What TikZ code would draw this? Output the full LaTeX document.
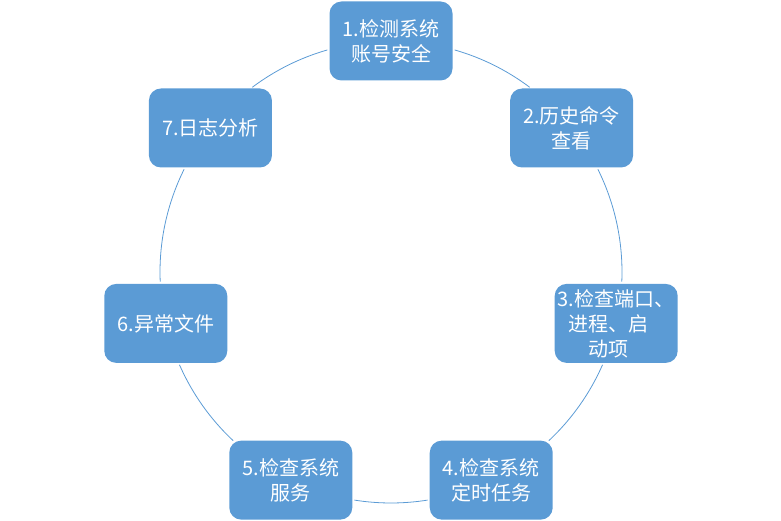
\documentclass[tikz,border=0pt]{standalone}
\usepackage{fontspec}
\setmainfont{Noto Sans CJK SC}
\usepackage{tikz}
\definecolor{cycleblue}{RGB}{91,155,213}

\begin{document}
\begin{tikzpicture}[x=1pt, y=1pt,
                    main node/.style={fill=cycleblue, rounded corners=12pt, minimum width=123pt, minimum height=79pt,
                                      inner sep=0pt, align=center, text=white, font=\fontsize{20}{25}\selectfont},
                    cycle line/.style={draw=cycleblue, line width=0.8pt}]

  \useasboundingbox (0,0) rectangle (781,-521);
  \coordinate (c) at (391,-272);

  \node[main node] (1) at ([shift={(90:231pt)}]c) {1.检测系统\\账号安全};
  \node[main node] (2) at ([shift={(38.571:231pt)}]c) {2.历史命令\\查看};
  \node[main node] (3) at ([shift={(-12.857:231pt)}]c) {3.检查端口、\\进程、启\kern16pt\\动项\kern16pt};
  \node[main node] (4) at ([shift={(-64.286:231pt)}]c) {4.检查系统\\定时任务};
  \node[main node] (5) at ([shift={(-115.714:231pt)}]c) {5.检查系统\\服务};
  \node[main node] (6) at ([shift={(-167.143:231pt)}]c) {6.异常文件};
  \node[main node] (7) at ([shift={(141.429:231pt)}]c) {7.日志分析};

  % arcs of the cycle, from box to box
  \foreach \a/\b in {74.0/53.1, 26.4/-2.4, -23.7/-46.9, -80.9/-99.1,
                     -133.1/-156.3, -177.6/-206.4, -233.1/-254.0}
    \draw[cycle line] ([shift={(\a:231pt)}]c) arc[start angle=\a, end angle=\b, radius=231pt];
\end{tikzpicture}
\end{document}
